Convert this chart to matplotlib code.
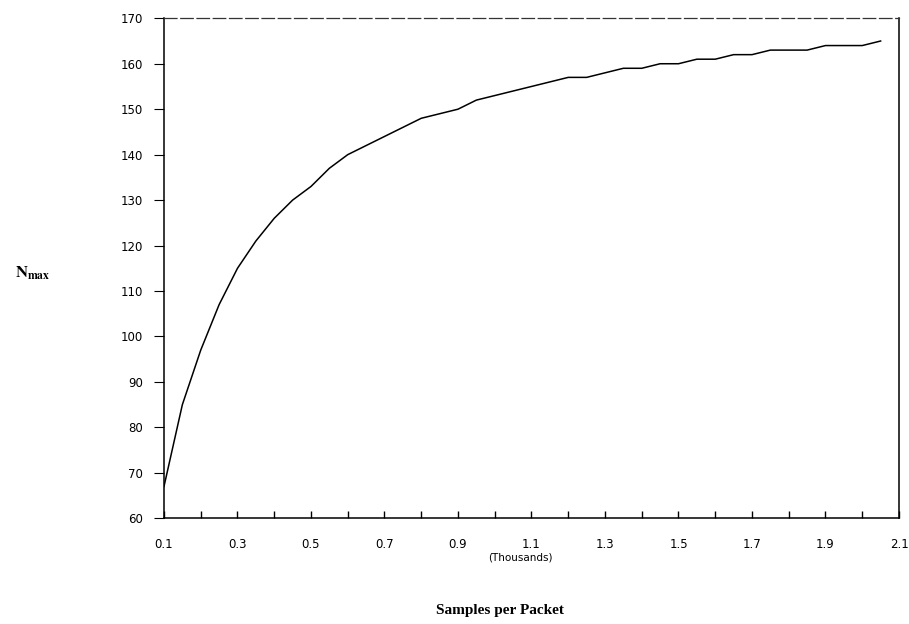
import numpy as np
import matplotlib
matplotlib.use("Agg")
import matplotlib.pyplot as plt

# samples per packet (thousands) vs N max
samples_k = [0.10, 0.15, 0.20, 0.25, 0.30, 0.35, 0.40, 0.45, 0.50, 0.55,
             0.60, 0.65, 0.70, 0.75, 0.80, 0.85, 0.90, 0.95, 1.00, 1.05,
             1.10, 1.15, 1.20, 1.25, 1.30, 1.35, 1.40, 1.45, 1.50, 1.55,
             1.60, 1.65, 1.70, 1.75, 1.80, 1.85, 1.90, 1.95, 2.00, 2.05]
n_max = [67, 85, 97, 107, 115, 121, 126, 130, 133, 137,
         140, 142, 144, 146, 148, 149, 150, 152, 153, 154,
         155, 156, 157, 157, 158, 159, 159, 160, 160, 161,
         161, 162, 162, 163, 163, 163, 164, 164, 164, 165]

x_ticks = [round(0.1 + 0.1 * i, 1) for i in range(21)]
x_labels = ["%.1f" % t if i % 2 == 0 else "" for i, t in enumerate(x_ticks)]
y_ticks = list(range(60, 171, 10))

fig = plt.figure(figsize=(9.09, 6.24), dpi=100)
ax = fig.add_axes([0.1804, 0.1694, 0.989 - 0.1804, 0.9707 - 0.1694])

ax.plot(samples_k, n_max, color="black", linewidth=1.1)

ax.set_xlim(0.1, 2.1)
ax.set_ylim(60, 170)
ax.set_xticks(x_ticks)
ax.set_xticklabels(x_labels)
ax.set_yticks(y_ticks)

ax.tick_params(axis="x", direction="in", length=5, width=1, pad=14,
               labelsize=8.5, color="black")
ax.tick_params(axis="y", direction="out", length=7, width=0.8, pad=8,
               labelsize=8.5)

for s in ["left", "bottom", "right"]:
    ax.spines[s].set_linewidth(1.1)
ax.spines["top"].set_linewidth(0.9)
ax.spines["top"].set_linestyle((0, (10, 3)))
ax.spines["top"].set_color("#333333")

fig.text(0.572, 0.107, "(Thousands)", fontsize=7.5, ha="center", va="center")
fig.text(0.55, 0.021, "Samples per Packet", fontsize=11, fontweight="bold",
         family="Liberation Serif", ha="center", va="center")

plt.rcParams["mathtext.fontset"] = "stix"
fig.text(0.016, 0.563, r"$\mathbf{N}_{\mathbf{max}}$", fontsize=12,
         ha="left", va="center")

fig.savefig("out.png", dpi=100)
